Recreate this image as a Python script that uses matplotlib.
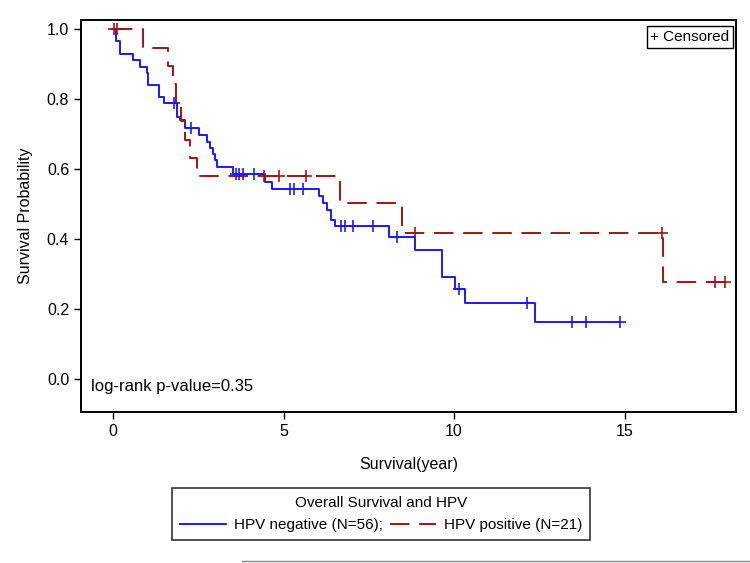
import numpy as np
import matplotlib.pyplot as plt
from matplotlib.lines import Line2D

plt.rcParams['font.family'] = ['Liberation Sans', 'DejaVu Sans']
plt.rcParams['font.size'] = 11.5

# HPV negative (N=56): event times and survival after each step
neg_times = [0.08, 0.2, 0.58, 0.8, 1.0, 1.03, 1.35, 1.5, 1.87, 1.97, 2.1,
             2.52, 2.75, 2.85, 2.92, 3.0, 3.05, 3.52, 4.46, 4.66, 6.04,
             6.15, 6.27, 6.4, 6.5, 8.1, 8.86, 9.65, 10.03, 10.32, 12.37]
neg_surv = [0.965, 0.929, 0.911, 0.893, 0.875, 0.84, 0.806, 0.789, 0.75,
            0.74, 0.717, 0.697, 0.677, 0.66, 0.643, 0.625, 0.606, 0.586,
            0.563, 0.543, 0.522, 0.503, 0.484, 0.456, 0.437, 0.405, 0.369,
            0.292, 0.257, 0.217, 0.162]
neg_censor = [1.8, 2.3, 3.6, 3.7, 3.8, 4.13, 5.2, 5.3, 5.57, 6.68, 6.8,
              7.04, 7.62, 8.33, 10.15, 12.14, 13.46, 13.87, 14.87]
neg_end = 14.87

# HPV positive (N=21)
pos_times = [0.88, 1.6, 1.75, 1.85, 2.0, 2.1, 2.27, 2.45, 6.66, 8.47, 16.13]
pos_surv = [0.947, 0.895, 0.842, 0.789, 0.737, 0.684, 0.632, 0.579, 0.502,
            0.417, 0.277]
pos_censor = [0.03, 0.12, 4.43, 4.87, 5.66, 8.86, 16.1, 17.65, 17.95]
pos_end = 17.95

blue = '#1a1aff'
red = '#a01414'
dash = (0, (10, 5))


def surv_at(t, times, surv):
    s = 1.0
    for ti, si in zip(times, surv):
        if ti <= t:
            s = si
    return s


def km_line(ax, times, surv, end, color, ls):
    x = [0] + times + [end]
    y = [1.0] + surv + [surv[-1]]
    ax.step(x, y, where='post', color=color, lw=1.4, linestyle=ls)


fig = plt.figure(figsize=(7.5, 5.63), dpi=100)
ax = fig.add_axes([81 / 750, 1 - 412 / 563, 655 / 750, 392 / 563])

km_line(ax, neg_times, neg_surv, neg_end, blue, '-')
km_line(ax, pos_times, pos_surv, pos_end, red, dash)

ax.plot(neg_censor, [surv_at(t, neg_times, neg_surv) for t in neg_censor],
        '+', color=blue, ms=8, mew=1.2)
pc_y = [surv_at(t, pos_times, pos_surv) for t in pos_censor]
ax.plot(pos_censor, pc_y, '+', color=red, ms=8, mew=1.2)

ax.set_xlim(-0.94, 18.27)
ax.set_ylim(-0.094, 1.026)
ax.set_xticks([0, 5, 10, 15])
ax.set_yticks([0.0, 0.2, 0.4, 0.6, 0.8, 1.0])
ax.set_yticklabels(['0.0', '0.2', '0.4', '0.6', '0.8', '1.0'])
ax.tick_params(direction='out', length=5, width=1)
for sp in ax.spines.values():
    sp.set_linewidth(1.4)

ax.set_xlabel('Survival(year)', labelpad=13)
ax.set_ylabel('Survival Probability', labelpad=10)

ax.text(0.015, 0.045, 'log-rank p-value=0.35', transform=ax.transAxes,
        fontsize=12, va='bottom', ha='left')
ax.text(0.99, 0.975, '+ Censored', transform=ax.transAxes, ha='right',
        va='top', fontsize=11,
        bbox=dict(boxstyle='square,pad=0.25', fc='white', ec='black', lw=1))

handles = [Line2D([], [], color=blue, lw=1.4),
           Line2D([], [], color=red, lw=1.4, linestyle=dash)]
labels = ['HPV negative (N=56);', 'HPV positive (N=21)']
leg = fig.legend(handles, labels, loc='upper center',
                 bbox_to_anchor=(381 / 750, 1 - 488 / 563), ncol=2,
                 title='Overall Survival and HPV', fontsize=11,
                 title_fontsize=11, frameon=True, fancybox=False,
                 edgecolor='black', handlelength=3.0, columnspacing=0.5,
                 handletextpad=0.5, borderpad=0.5, labelspacing=0.55,
                 borderaxespad=0)
leg.get_frame().set_linewidth(1.2)

fig.add_artist(Line2D([242 / 750, 1.0], [1 - 561 / 563, 1 - 561 / 563],
                      color='#888888', lw=1))

fig.savefig('out.png', dpi=100)
